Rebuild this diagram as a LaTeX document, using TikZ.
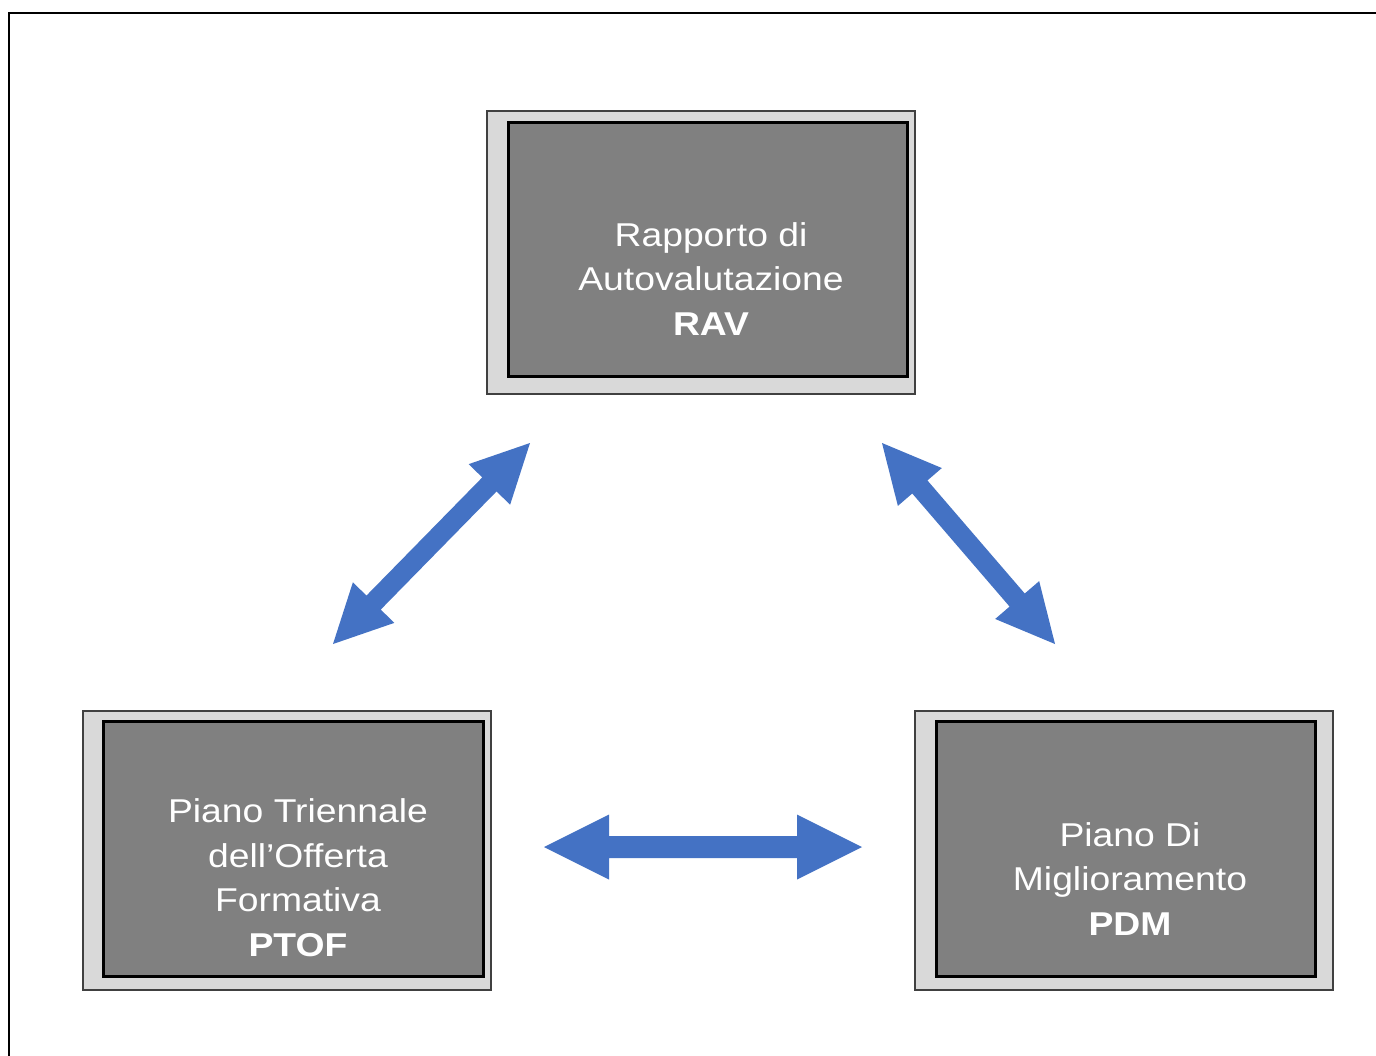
\documentclass[tikz,border=0pt]{standalone}
\usepackage{fontspec}
\setmainfont{Liberation Sans}[FakeStretch=1.13]
\usetikzlibrary{calc}
\definecolor{arrowblue}{HTML}{4472C4}
\definecolor{outergray}{HTML}{D9D9D9}
\definecolor{innergray}{HTML}{808080}
\newcommand\twoheadarrow[6]{%
  \coordinate (#3ha) at ($(#1)!#6!(#2)$);
  \coordinate (#3hb) at ($(#2)!#6!(#1)$);
  \fill[arrowblue] (#1) -- ($(#3ha)!#5!90:(#2)$) -- ($(#3ha)!#4!90:(#2)$)
    -- ($(#3hb)!#4!-90:(#1)$) -- ($(#3hb)!#5!-90:(#1)$) -- (#2)
    -- ($(#3hb)!#5!90:(#1)$) -- ($(#3hb)!#4!90:(#1)$)
    -- ($(#3ha)!#4!-90:(#2)$) -- ($(#3ha)!#5!-90:(#2)$) -- cycle;}
\begin{document}
\begin{tikzpicture}[x=1bp,y=-1bp,
  outerbox/.style={draw=black!75,line width=1.3bp,fill=outergray},
  innerbox/.style={draw=black,line width=3bp,fill=innergray},
  boxtext/.style={text=white,align=center,inner sep=0pt,
    font=\fontsize{33bp}{44.5bp}\selectfont}]
\useasboundingbox (0,0) rectangle (1376,1055);
\fill[white] (0,0) rectangle (1376,1055);
% frame
\draw[line width=2bp] (9,1060) -- (9,12.5) -- (1380,12.5);
% RAV
\draw[outerbox] (487,111) rectangle (915,394);
\draw[innerbox] (508,122) rectangle (907,376);
\node[boxtext] (rav) at (711,279) {Rapporto di\\Autovalutazione\\\textbf{RAV}};
% PTOF
\draw[outerbox] (83,711) rectangle (491,990);
\draw[innerbox] (103,721) rectangle (483,976);
\node[boxtext] (ptof) at (298,877.5) {Piano Triennale\\dell’Offerta\\Formativa\\\textbf{PTOF}};
% PDM
\draw[outerbox] (915,711) rectangle (1333,990);
\draw[innerbox] (936,721) rectangle (1315,976);
\node[boxtext] (pdm) at (1130,879) {Piano Di\\Miglioramento\\\textbf{PDM}};
% arrows
\coordinate (la) at (333,644);
\coordinate (lb) at (530,443);
\coordinate (ra) at (882,443);
\coordinate (rb) at (1055,644);
\coordinate (ha) at (544,847);
\coordinate (hb) at (862,847);
\twoheadarrow{la}{lb}{l}{10bp}{29bp}{58bp}
\twoheadarrow{ra}{rb}{r}{10bp}{29bp}{58bp}
\twoheadarrow{ha}{hb}{h}{11bp}{32.5bp}{65bp}
\end{tikzpicture}
\end{document}
